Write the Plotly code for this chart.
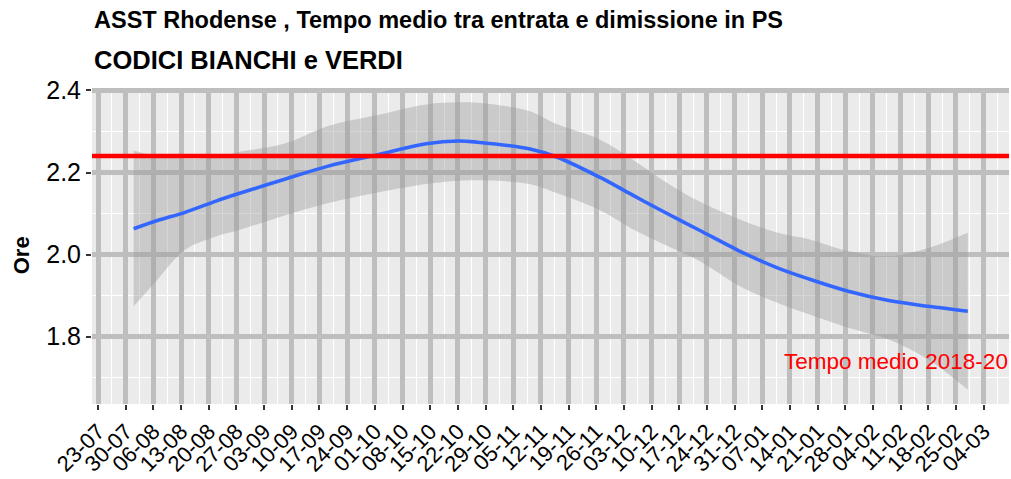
import plotly.graph_objects as go

# Smoothed weekly mean time (hours) with its confidence band
dates = ["2020-08-01", "2020-08-07", "2020-08-14", "2020-08-22", "2020-08-27",
         "2020-09-08", "2020-09-19", "2020-10-02", "2020-10-14", "2020-10-22",
         "2020-10-27", "2020-11-09", "2020-11-16", "2020-11-27", "2020-12-05",
         "2020-12-12", "2020-12-22", "2021-01-01", "2021-01-11", "2021-01-19",
         "2021-01-29", "2021-02-08", "2021-02-18", "2021-02-28"]
smooth = [2.063, 2.083, 2.103, 2.131, 2.147, 2.183, 2.215, 2.244, 2.270, 2.277,
          2.274, 2.258, 2.238, 2.188, 2.146, 2.110, 2.060, 2.010, 1.967, 1.940,
          1.910, 1.888, 1.874, 1.862]
upper = [2.254, 2.240, 2.234, 2.237, 2.249, 2.270, 2.313, 2.341, 2.366, 2.371,
         2.370, 2.350, 2.318, 2.280, 2.233, 2.187, 2.130, 2.087, 2.053, 2.037,
         2.008, 1.996, 2.016, 2.053]
lower = [1.874, 1.939, 2.012, 2.045, 2.058, 2.095, 2.125, 2.152, 2.172, 2.180,
         2.181, 2.172, 2.150, 2.108, 2.063, 2.030, 1.985, 1.925, 1.882, 1.854,
         1.821, 1.793, 1.744, 1.671]

reference_mean = 2.24
reference_label = "Tempo medio 2018-20"

title = "ASST Rhodense , Tempo medio tra entrata e dimissione in PS"
subtitle = "CODICI BIANCHI e VERDI"
y_title = "Ore"

x_range = ["2020-07-21 11:00", "2021-03-10 10:00"]
y_range = [1.636, 2.406]
week_ms = 7 * 24 * 3600 * 1000

FONT = "Liberation Sans, Arial, sans-serif"

fig = go.Figure()

fig.add_trace(go.Scatter(
    x=dates, y=lower, mode="lines", line=dict(width=0, shape="spline"),
    hoverinfo="skip", showlegend=False))
fig.add_trace(go.Scatter(
    x=dates, y=upper, mode="lines", line=dict(width=0, shape="spline"),
    fill="tonexty", fillcolor="rgba(153,153,153,0.4)",
    hoverinfo="skip", showlegend=False))
fig.add_trace(go.Scatter(
    x=dates, y=smooth, mode="lines",
    line=dict(color="#3366FF", width=3.6, shape="spline"),
    showlegend=False))
fig.add_trace(go.Scatter(
    x=x_range, y=[reference_mean, reference_mean], mode="lines",
    line=dict(color="#FF0000", width=4.5), showlegend=False))

fig.add_annotation(
    x="2021-02-09 20:00", y=1.739, xref="x", yref="y", text=reference_label,
    showarrow=False, xanchor="center", yanchor="middle",
    font=dict(family=FONT, size=22.5, color="#FF0000"))

fig.add_annotation(
    x=0, y=1.215, xref="paper", yref="paper", text="<b>" + title + "</b>",
    showarrow=False, xanchor="left", yanchor="middle",
    font=dict(family=FONT, size=23.5, color="#000000"))
fig.add_annotation(
    x=0, y=1.089, xref="paper", yref="paper", text="<b>" + subtitle + "</b>",
    showarrow=False, xanchor="left", yanchor="middle",
    font=dict(family=FONT, size=25.5, color="#000000"))
fig.add_annotation(
    x=-0.0766, y=0.47, xref="paper", yref="paper", text="<b>" + y_title + "</b>",
    showarrow=False, xanchor="center", yanchor="middle", textangle=-90,
    font=dict(family=FONT, size=22, color="#000000"))

fig.update_xaxes(
    type="date", range=x_range, tick0="2020-07-23", dtick=week_ms,
    tickformat="%d-%m", tickangle=-45,
    ticks="outside", ticklen=5, tickwidth=1.5, tickcolor="#333333",
    tickfont=dict(family=FONT, size=22, color="#000000"),
    showgrid=True, gridcolor="#BEBEBE", gridwidth=5,
    minor=dict(dtick=week_ms / 2, tick0="2020-07-23", showgrid=True,
               gridcolor="#FFFFFF", gridwidth=1, ticks=""),
    zeroline=False, showline=False)
fig.update_yaxes(
    range=y_range, tick0=0, dtick=0.2, tickformat=".1f",
    ticks="outside", ticklen=5, tickwidth=1.5, tickcolor="#333333",
    tickfont=dict(family=FONT, size=25, color="#000000"),
    showgrid=True, gridcolor="#BEBEBE", gridwidth=5,
    minor=dict(dtick=0.1, tick0=0, showgrid=True,
               gridcolor="#FFFFFF", gridwidth=1, ticks=""),
    zeroline=False, showline=False)

fig.update_layout(
    width=1011, height=479,
    margin=dict(l=92, r=2, t=88, b=75),
    paper_bgcolor="#FFFFFF", plot_bgcolor="#EBEBEB",
    font=dict(family=FONT),
    showlegend=False)

fig.write_html("out.html")
